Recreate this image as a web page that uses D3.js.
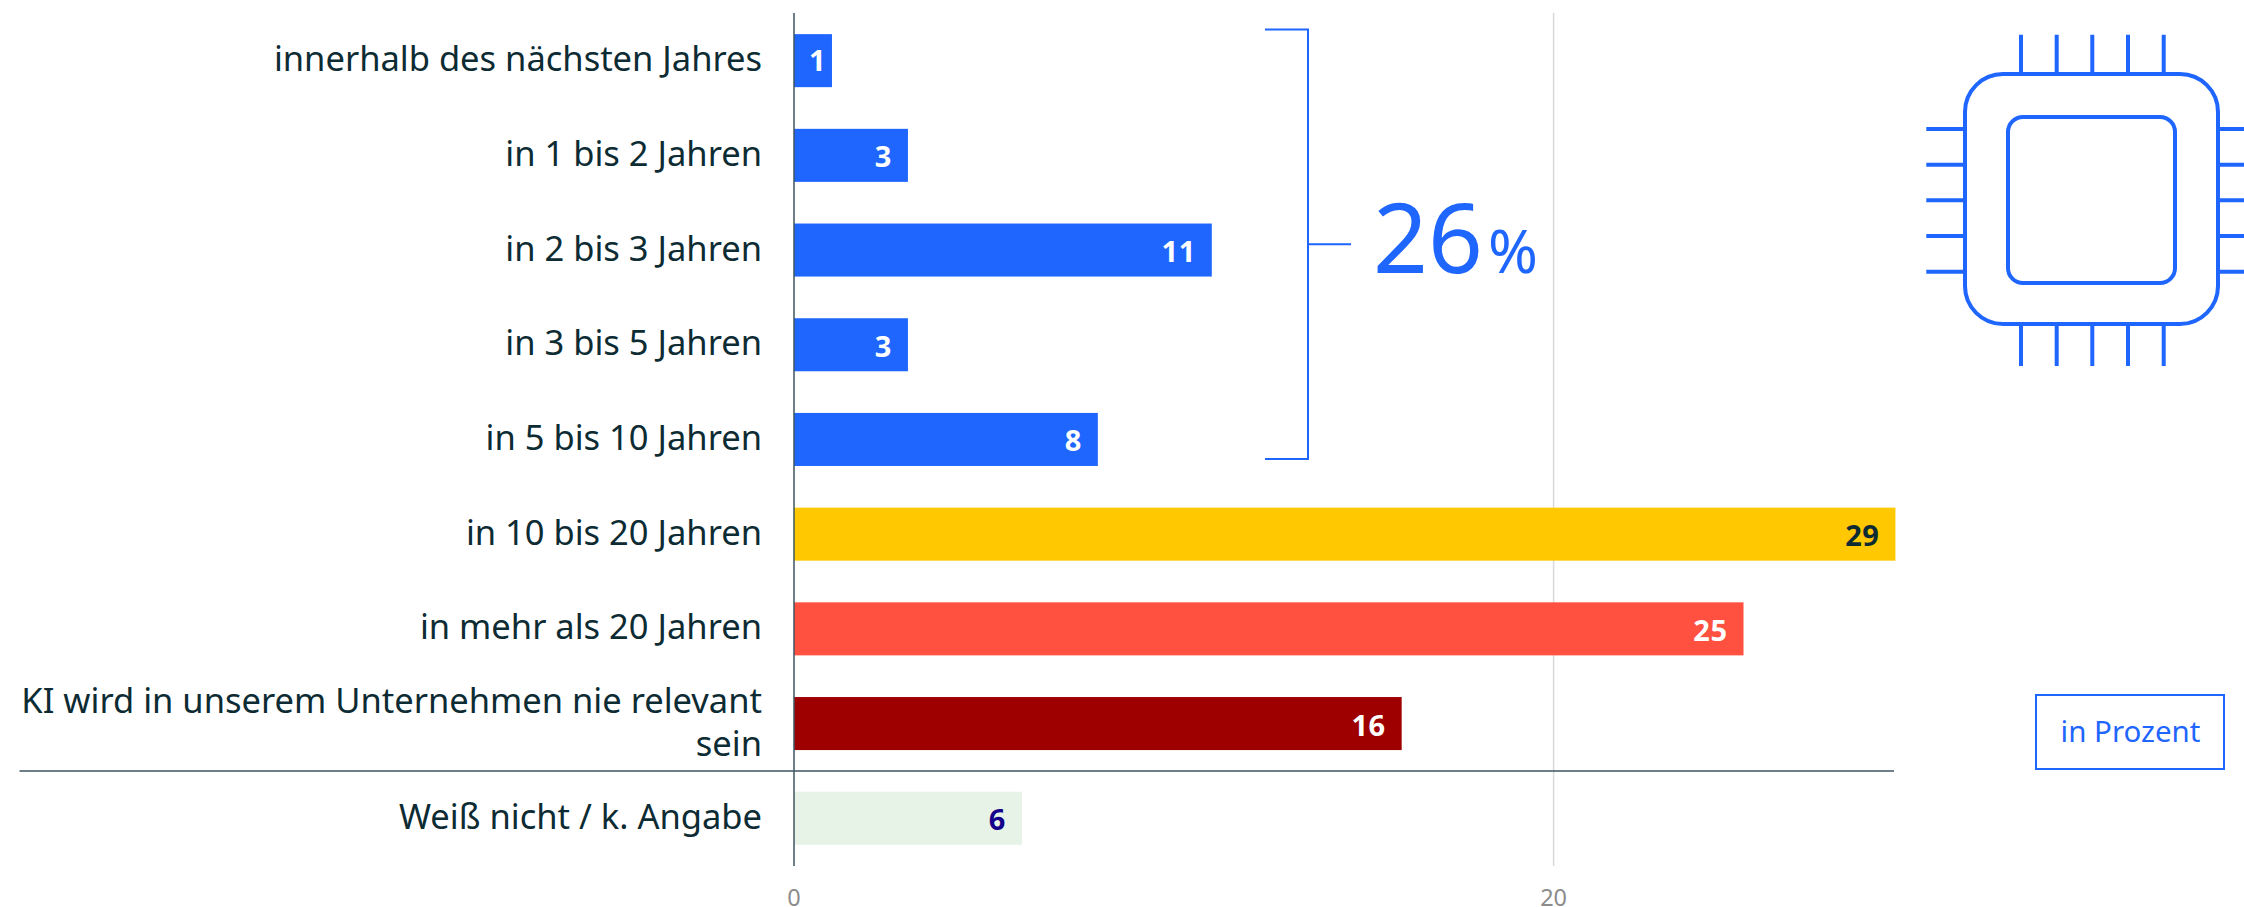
<!DOCTYPE html>
<html><head><meta charset="utf-8">
<script src="https://cdn.jsdelivr.net/npm/d3@7/dist/d3.min.js"></script>
<style>html,body{margin:0;padding:0;background:#fff;overflow:hidden}svg{display:block}text{font-family:"Noto Sans",sans-serif}</style>
</head><body><svg id="c" width="2244" height="907"></svg>
<script>
const categories=[["innerhalb des nächsten Jahres"],["in 1 bis 2 Jahren"],["in 2 bis 3 Jahren"],["in 3 bis 5 Jahren"],["in 5 bis 10 Jahren"],["in 10 bis 20 Jahren"],["in mehr als 20 Jahren"],["KI wird in unserem Unternehmen nie relevant","sein"],["Weiß nicht / k. Angabe"]];
const values=[1,3,11,3,8,29,25,16,6];
const barColors=["#1f66ff","#1f66ff","#1f66ff","#1f66ff","#1f66ff","#ffc800","#ff5040","#9e0000","#e6f3e6"];
const valueColors=["#fff","#fff","#fff","#fff","#fff","#0d2b33","#fff","#fff","#14008a"];
const xTicks=[0,20];
const svg=d3.select("#c");
const x=d3.scaleLinear().domain([0,20]).range([794,1553.6]);
const y=d3.scaleBand().domain(d3.range(values.length)).range([13.3,865.6]).paddingInner(0.44).paddingOuter(0.22);
const BLUE="#1f66ff",INK="#0d2b33";
svg.selectAll("line.g").data(xTicks.slice(1)).join("line").attr("x1",x).attr("x2",x).attr("y1",13).attr("y2",866).attr("stroke","#d9d9d9").attr("stroke-width",1.5);
svg.selectAll("rect.b").data(values).join("rect").attr("class","b").attr("x",x(0)).attr("y",(d,i)=>y(i)).attr("width",d=>x(d)-x(0)).attr("height",y.bandwidth()).attr("fill",(d,i)=>barColors[i]);
svg.append("line").attr("x1",794).attr("x2",794).attr("y1",13).attr("y2",866).attr("stroke","#3f5560").attr("stroke-width",1.5);
svg.append("line").attr("x1",19.5).attr("x2",1894).attr("y1",771).attr("y2",771).attr("stroke","#3f5560").attr("stroke-width",1.5);
svg.selectAll("text.v").data(values).join("text").attr("class","v").attr("x",d=>x(d)-((x(d)-x(0))<60?6:16)).attr("y",(d,i)=>y(i)+y.bandwidth()/2+(d===1?10:12)).attr("text-anchor","end").attr("font-size",29).attr("font-weight",700).attr("letter-spacing",0.5).attr("fill",(d,i)=>valueColors[i]).text(d=>d);
categories.forEach((c,i)=>{const cy=y(i)+y.bandwidth()/2;
 c.forEach((l,k)=>svg.append("text").attr("x",762).attr("y",cy+(k-(c.length-1)/2)*43-1.5).attr("dy",".35em").attr("text-anchor","end").attr("font-size",34.5).attr("font-weight",400).attr("fill",INK).text(l));});
svg.selectAll("text.t").data(xTicks).join("text").attr("class","t").attr("x",x).attr("y",898).attr("dy",".35em").attr("text-anchor","middle").attr("font-size",23.5).attr("fill","#8c8c8c").text(d=>d);
svg.append("path").attr("d","M1265 29.5H1308V459H1265M1308 244.3H1351").attr("fill","none").attr("stroke",BLUE).attr("stroke-width",2);
svg.append("text").attr("x",1373).attr("y",273).attr("font-size",96).attr("fill",BLUE).text("26");
svg.append("text").attr("x",1488).attr("y",273).attr("font-size",60).attr("fill",BLUE).text("%");
svg.append("rect").attr("x",2036).attr("y",695).attr("width",188).attr("height",74).attr("fill","none").attr("stroke",BLUE).attr("stroke-width",2);
svg.append("text").attr("x",2130.5).attr("y",732).attr("dy",".35em").attr("text-anchor","middle").attr("font-size",29.5).attr("fill",BLUE).text("in Prozent");
const chip=svg.append("g").attr("fill","none").attr("stroke",BLUE).attr("stroke-width",4);
chip.append("rect").attr("x",1965).attr("y",74).attr("width",253).attr("height",250).attr("rx",38);
chip.append("rect").attr("x",2008).attr("y",117).attr("width",167).attr("height",166).attr("rx",15);
[2021,2056.7,2092.3,2128,2163.7].forEach(p=>{chip.append("path").attr("d",`M${p} 34.7V74M${p} 324V366`);});
[129,164.7,200.3,236,271.7].forEach(p=>{chip.append("path").attr("d",`M1926.3 ${p}H1965M2218 ${p}H2257`);});
</script></body></html>
